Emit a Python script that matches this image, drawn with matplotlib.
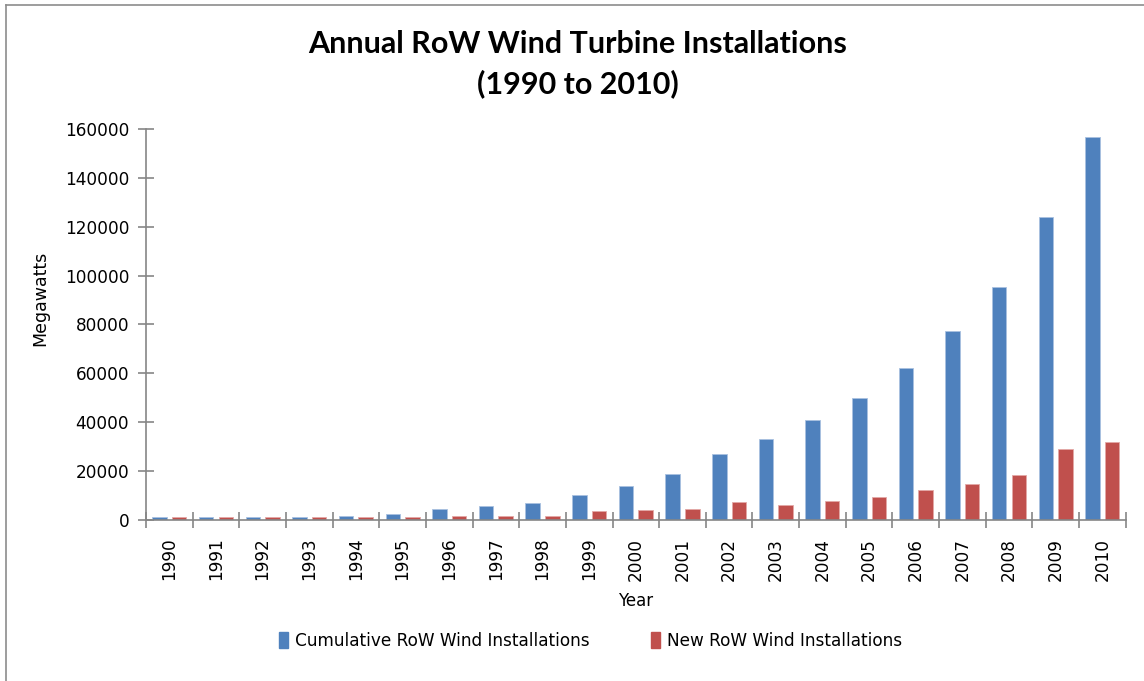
import matplotlib
matplotlib.use("Agg")
import matplotlib.pyplot as plt
from matplotlib.lines import Line2D
import numpy as np

years = [str(y) for y in range(1990, 2011)]
cumulative_mw = [950, 950, 950, 950, 1650, 2300, 4200, 5600, 6900, 10000,
                 13700, 18900, 26700, 33000, 40800, 49900, 62200, 77300,
                 95200, 124200, 156700]
new_mw = [950, 950, 950, 950, 950, 950, 1650, 1650, 1650, 3400,
          3900, 4500, 7200, 5900, 7800, 9200, 12300, 14400, 18200,
          29100, 31700]

series_names = ["Cumulative RoW Wind Installations", "New RoW Wind Installations"]
title = "Annual RoW Wind Turbine Installations\n(1990 to 2010)"
y_ticks = [0, 20000, 40000, 60000, 80000, 100000, 120000, 140000, 160000]

blue = "#4F81BD"
red = "#C0504D"
axis_grey = "#868686"

fig = plt.figure(figsize=(11.44, 6.81), dpi=100)
ax = fig.add_axes([0.1276, 0.237, 0.8564, 0.573])

x = np.arange(len(years))
w = 0.31
ax.bar(x - 0.21, cumulative_mw, width=w, color=blue, edgecolor="#A9C1E0",
       linewidth=0.6, label=series_names[0], zorder=2)
ax.bar(x + 0.21, new_mw, width=w, color=red, edgecolor="#E3A9A7",
       linewidth=0.6, label=series_names[1], zorder=2)

ax.set_xlim(-0.5, len(years) - 0.5)
ax.set_ylim(0, 160000)

for s in ("top", "right"):
    ax.spines[s].set_visible(False)
for s in ("left", "bottom"):
    ax.spines[s].set_color(axis_grey)
    ax.spines[s].set_linewidth(1.2)

tick_font = dict(family="DejaVu Sans", size=12.2)
ax.set_yticks(y_ticks)
ax.set_yticklabels([str(v) for v in y_ticks], **tick_font)
ax.tick_params(axis="y", direction="inout", length=12, width=1.2,
               color=axis_grey, pad=6)

# category labels at centres, tick marks at boundaries
ax.set_xticks(x)
ax.set_xticklabels(years, rotation=90, **tick_font)
ax.tick_params(axis="x", which="major", length=0, pad=13)
ax.set_xticks(np.arange(len(years) + 1) - 0.5, minor=True)
ax.tick_params(axis="x", which="minor", direction="inout", length=11,
               width=1.2, color=axis_grey)

ax.set_ylabel("Megawatts", family="DejaVu Sans", size=12.5)
ax.yaxis.set_label_coords(-0.099, 0.567)
ax.set_xlabel("Year", family="DejaVu Sans", size=12, labelpad=8)

fig.text(0.505, 0.906, title, ha="center", va="center", family="Lato",
         fontweight="bold", size=22, linespacing=1.45)

handles = [plt.Rectangle((0, 0), 1, 1, color=blue),
           plt.Rectangle((0, 0), 1, 1, color=red)]
fig.legend(handles, series_names, loc="center", bbox_to_anchor=(0.516, 0.059),
           ncol=2, frameon=False, prop=dict(family="DejaVu Sans", size=12.2),
           handlelength=0.55, handleheight=1.0, handletextpad=0.4,
           columnspacing=3.6)

# outer chart frame (top and left edges)
fig.add_artist(Line2D([0.0052, 0.0052], [0, 0.9927], transform=fig.transFigure,
                      color="#8C8C8C", linewidth=1.2))
fig.add_artist(Line2D([0.0052, 1.0], [0.9927, 0.9927], transform=fig.transFigure,
                      color="#8C8C8C", linewidth=1.2))

fig.savefig("out.png", dpi=100, facecolor="white")
